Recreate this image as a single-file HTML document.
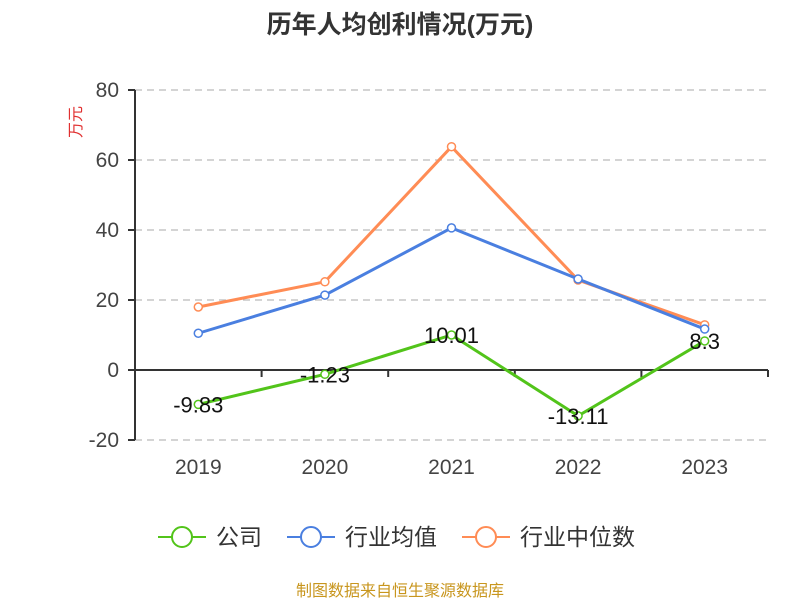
<!DOCTYPE html>
<html><head><meta charset="utf-8"><style>
body{margin:0;background:#fff;font-family:"Liberation Sans","Noto Sans CJK SC",sans-serif}
</style></head><body>
<svg id="c" width="800" height="600" xmlns="http://www.w3.org/2000/svg" font-family="Liberation Sans, Noto Sans CJK SC, sans-serif">
<text x="400" y="33" text-anchor="middle" font-size="25" font-weight="bold" fill="#333">历年人均创利情况(万元)</text>
<text transform="translate(81,122) rotate(-90)" text-anchor="middle" font-size="16" fill="#e03030">万元</text>
<text x="400" y="596" text-anchor="middle" font-size="16" fill="#c8961e">制图数据来自恒生聚源数据库</text>
<g id="g"></g>
</svg>
<script>
const categories=["2019","2020","2021","2022","2023"];
const company=[-9.83,-1.23,10.01,-13.11,8.3];
const industryAvg=[10.5,21.4,40.6,26,11.7];
const industryMedian=[18,25.2,63.8,25.7,12.9];
const yTicks=[-20,0,20,40,60,80];
const seriesNames=["公司","行业均值","行业中位数"];
const colors=["#52c41a","#4a7fe0","#ff8c55"];
const NS="http://www.w3.org/2000/svg";
const g=document.getElementById('g');
const L=135,R=768,T=90,B=440;
const y=v=>370-v*3.5;
const bw=(R-L)/categories.length;
const x=i=>L+bw*(i+0.5);
function el(t,a){const e=document.createElementNS(NS,t);for(const k in a)e.setAttribute(k,a[k]);g.appendChild(e);return e;}
yTicks.forEach(t=>{
 if(t!==0){const l=el('line',{x1:L,x2:R,y1:y(t),y2:y(t),stroke:'#bbb','stroke-dasharray':'7,5','stroke-width':1.3});
 
 }
 const k=el('line',{x1:L-7,x2:L,y1:y(t),y2:y(t),stroke:'#333','stroke-width':2});
 
 
 const tx=el('text',{x:L-16,y:y(t)+7,'text-anchor':'end','font-size':21,fill:'#444'});tx.textContent=t;
 
 
});
const ya=el('line',{x1:L,x2:L,y1:T,y2:B,stroke:'#333','stroke-width':2});


const xa=el('line',{x1:L,x2:R,y1:y(0),y2:y(0),stroke:'#333','stroke-width':2});


for(let i=0;i<=categories.length;i++){const k=el('line',{x1:L+bw*i,x2:L+bw*i,y1:y(0),y2:y(0)+7,stroke:'#333','stroke-width':2});
 
 }
categories.forEach((c,i)=>{const t=el('text',{x:x(i),y:474,'text-anchor':'middle','font-size':21,fill:'#444'});t.textContent=c;
 
 });
[industryMedian,industryAvg,company].forEach((d,si)=>{
 const ci=[2,1,0][si];
 const p=el('polyline',{points:d.map((v,i)=>x(i)+','+y(v)).join(' '),fill:'none',stroke:colors[ci],'stroke-width':3});
 
 
 d.forEach((v,i)=>{const c=el('circle',{cx:x(i),cy:y(v),r:4,fill:'#fff',stroke:colors[ci],'stroke-width':1.5});
  
  });
});
company.forEach((v,i)=>{const t=el('text',{x:x(i),y:y(v)+8,'text-anchor':'middle','font-size':22,fill:'#111'});t.textContent=v;
 
 });
const lx=[158,287,462];
seriesNames.forEach((n,i)=>{
 const l=el('line',{x1:lx[i],x2:lx[i]+48,y1:537,y2:537,stroke:colors[i],'stroke-width':2});
 
 
 const c=el('circle',{cx:lx[i]+24,cy:537,r:10,fill:'#fff',stroke:colors[i],'stroke-width':2});
 
 
 const t=el('text',{x:lx[i]+58,y:545,'font-size':23,fill:'#333'});t.textContent=n;
 
 
});
</script>
</body></html>
